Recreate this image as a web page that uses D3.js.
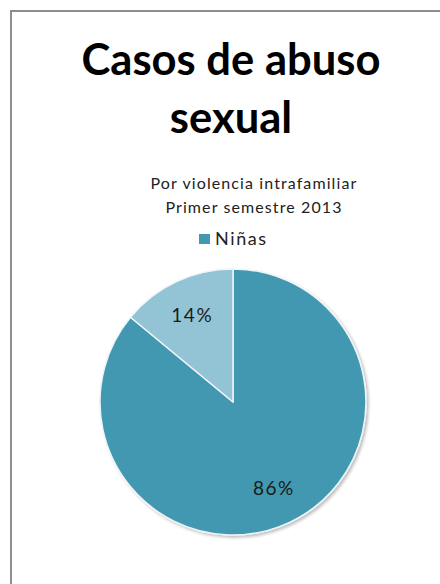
<!DOCTYPE html>
<html>
<head>
<meta charset="utf-8">
<script src="https://cdn.jsdelivr.net/npm/d3@7"></script>
<style>
  html, body { margin: 0; padding: 0; background: #fff; }
  svg { display: block; }
</style>
</head>
<body>
<div id="chart"></div>
<script>
// data
const categories = ["Niñas", "Niños"];
const values = [86, 14];
const colors = ["#4398b0", "#93c4d6"];
const titleLines = ["Casos de abuso", "sexual"];
const subtitleLines = ["Por violencia intrafamiliar", "Primer semestre 2013"];
const legendItems = ["Niñas"]; // the legend only shows the first entry

const width = 440, height = 584;
const font = "Lato, 'Open Sans', sans-serif";

const svg = d3.select("#chart").append("svg")
    .attr("width", width)
    .attr("height", height);

const defs = svg.append("defs");
const shadow = defs.append("filter")
    .attr("id", "shadow")
    .attr("x", "-10%").attr("y", "-10%")
    .attr("width", "130%").attr("height", "130%");
shadow.append("feDropShadow")
    .attr("dx", 2).attr("dy", 2)
    .attr("stdDeviation", 1.6)
    .attr("flood-color", "#000")
    .attr("flood-opacity", 0.25);

// chart area frame (runs off the right and bottom of the crop)
svg.append("rect")
    .attr("x", 11).attr("y", 11)
    .attr("width", width + 20).attr("height", height + 20)
    .attr("fill", "none")
    .attr("stroke", "#8e8e8e")
    .attr("stroke-width", 2);

// title, fitted to the width seen in the picture
const title = svg.append("g");
const titleBase = [75, 133];
title.selectAll("text")
  .data(titleLines)
  .join("text")
    .attr("x", 231)
    .attr("y", (d, i) => titleBase[i])
    .attr("text-anchor", "middle")
    .attr("font-family", font)
    .attr("font-weight", "bold")
    .attr("font-size", 42)
    .attr("fill", "#000")
    .text(d => d);
const first = title.select("text").node();
const fitted = 42 * 299 / first.getComputedTextLength();
title.selectAll("text").attr("font-size", fitted);

svg.append("g").selectAll("text")
  .data(subtitleLines)
  .join("text")
    .attr("x", 254)
    .attr("y", (d, i) => 189 + i * 24)
    .attr("text-anchor", "middle")
    .attr("font-family", font)
    .attr("font-size", 16)
    .attr("letter-spacing", 1.1)
    .attr("fill", "#222")
    .text(d => d);

// legend
const legend = svg.append("g").attr("transform", "translate(199,234)");
legend.selectAll("rect")
  .data(legendItems)
  .join("rect")
    .attr("width", 11).attr("height", 10)
    .attr("fill", (d, i) => colors[i]);
legend.selectAll("text")
  .data(legendItems)
  .join("text")
    .attr("x", 16).attr("y", 11)
    .attr("font-family", font)
    .attr("font-size", 18)
    .attr("letter-spacing", 1.6)
    .attr("fill", "#222")
    .text(d => d);

// pie
const cx = 233, cy = 402, r = 133;
const pie = d3.pie().sort(null).value(d => d);
const arcs = pie(values);
const arc = d3.arc().innerRadius(0).outerRadius(r);
const labelArc = d3.arc().innerRadius(r * 0.72).outerRadius(r * 0.72);

const g = svg.append("g").attr("transform", `translate(${cx},${cy})`);

g.append("g")
    .attr("filter", "url(#shadow)")
  .selectAll("path")
  .data(arcs)
  .join("path")
    .attr("d", arc)
    .attr("fill", (d, i) => colors[i])
    .attr("stroke", "#eef5f8")
    .attr("stroke-width", 1.5)
    .attr("stroke-linejoin", "round");

g.selectAll("text.label")
  .data(arcs)
  .join("text")
    .attr("class", "label")
    .attr("transform", d => `translate(${labelArc.centroid(d)})`)
    .attr("text-anchor", "middle")
    .attr("dy", "0.36em")
    .attr("font-family", font)
    .attr("font-size", 19)
    .attr("letter-spacing", 1.5)
    .attr("fill", "#1a1a1a")
    .text(d => d.data + "%");
</script>
</body>
</html>
